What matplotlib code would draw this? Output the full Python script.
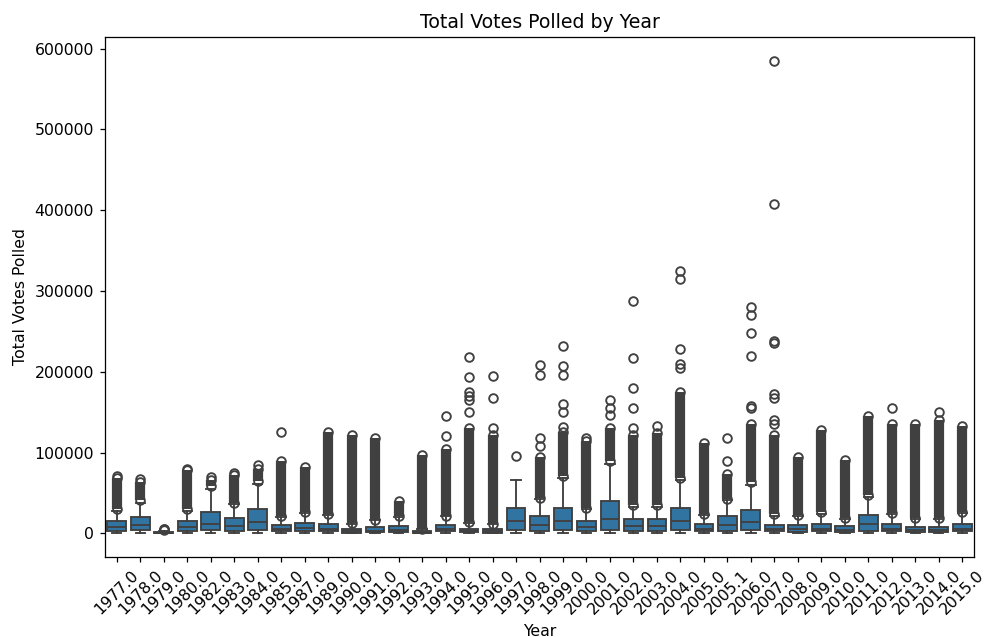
import matplotlib
matplotlib.use('Agg')
import matplotlib.pyplot as plt

years = ['1977.0', '1978.0', '1979.0', '1980.0', '1982.0', '1983.0', '1984.0', '1985.0',
         '1987.0', '1989.0', '1990.0', '1991.0', '1992.0', '1993.0', '1994.0', '1995.0',
         '1996.0', '1997.0', '1998.0', '1999.0', '2000.0', '2001.0', '2002.0', '2003.0',
         '2004.0', '2005.0', '2005.1', '2006.0', '2007.0', '2008.0', '2009.0', '2010.0',
         '2011.0', '2012.0', '2013.0', '2014.0', '2015.0']

# box statistics
q1 = [3500, 4000, 300, 3500, 4000, 3500, 4000, 2500, 3000, 2500, 1000, 1500, 2000, 300,
      2500, 1200, 1000, 4000, 3500, 4000, 3000, 4500, 3000, 3000, 4000, 2500, 3500, 4000,
      2500, 2000, 2500, 2000, 3500, 2500, 1500, 1500, 2500]
medians = [8000, 10000, 800, 7500, 12000, 9000, 14000, 5000, 6500, 5500, 2500, 3500, 4500,
           1000, 5000, 3000, 2500, 15000, 10000, 15000, 8000, 18000, 8500, 8500, 15000, 5500,
           10500, 13500, 5500, 5000, 6000, 4500, 11000, 5500, 4000, 4000, 6000]
q3 = [15500, 20000, 1800, 15000, 27000, 19000, 30000, 10000, 12500, 11000, 5500, 7500, 9500,
      2500, 10000, 6000, 5000, 32000, 21500, 32000, 15500, 40000, 17500, 17500, 32000, 11000,
      21500, 28500, 10500, 10000, 11500, 8500, 23000, 11000, 8000, 8000, 11500]
whisker_low = [200, 300, 0, 200, 300, 200, 300, 100, 100, 100, 0, 100, 100, 0,
               100, 0, 0, 300, 200, 300, 100, 300, 100, 100, 300, 100, 200, 300,
               100, 100, 100, 100, 200, 100, 0, 0, 100]
whisker_high = [28000, 38000, 3500, 28000, 55000, 36000, 61000, 20000, 25000, 23000, 11500,
                16000, 20000, 5500, 21000, 13000, 11000, 66000, 42000, 68000, 30000, 86000,
                33000, 33000, 66000, 23000, 41000, 60000, 22000, 21500, 24500, 18000, 45000,
                23500, 17500, 17500, 25000]

# dense runs of outliers (lowest and highest outlier of each run), None = no run
flier_run_low = [30000, 41000, None, 30000, 59000, 38000, 65000, 21500, 26000, 24000, 12500,
                 17000, 21500, 6000, 22000, 14000, 12000, None, 44000, 71000, 31500, 89000,
                 34500, 34500, 69000, 24500, 43000, 63000, 23500, 23000, 26000, 19500, 47000,
                 25000, 19000, 19000, 26500]
flier_run_high = [68000, 64000, None, 78000, 66000, 72000, 80000, 90000, 82000, 125000, 122000,
                  118000, 40000, 97000, 104000, 130000, 122000, None, 95000, 125000, 114000,
                  130000, 122000, 124000, 175000, 112000, 73000, 135000, 122000, 95000, 128000,
                  91000, 145000, 135000, 135000, 140000, 133000]

# single outliers standing apart
flier_single = [
    [71000], [67000], [4200, 5000, 6000], [80000], [70000], [75000], [84000], [126000],
    [], [], [], [], [], [], [120000, 145000],
    [150000, 165000, 170000, 175000, 193000, 218000], [130000, 167000, 195000], [96000],
    [108000, 118000, 196000, 208000], [132000, 150000, 160000, 196000, 207000, 232000],
    [118000], [146000, 155000, 165000], [130000, 155000, 180000, 217000, 288000], [133000],
    [205000, 210000, 228000, 315000, 325000], [], [90000, 118000],
    [155000, 158000, 220000, 248000, 270000, 280000],
    [135000, 140000, 168000, 172000, 235000, 238000, 408000, 585000],
    [], [], [], [], [155000], [], [150000], [],
]

box_color = '#3274a1'
line_color = '#404040'

stats = []
for i in range(len(years)):
    fl = list(flier_single[i])
    if flier_run_low[i] is not None:
        fl += [flier_run_low[i], flier_run_high[i]]
    stats.append({'label': years[i], 'q1': q1[i], 'med': medians[i], 'q3': q3[i],
                  'whislo': whisker_low[i], 'whishi': whisker_high[i], 'fliers': fl})

fig, ax = plt.subplots(figsize=(988 / 113, 637 / 113), dpi=113)
fig.subplots_adjust(left=105 / 988, right=974 / 988, top=1 - 37 / 637, bottom=1 - 557 / 637)

positions = list(range(len(years)))
ax.bxp(stats, positions=positions, widths=0.8, patch_artist=True,
       boxprops=dict(facecolor=box_color, edgecolor=line_color, linewidth=1.2),
       medianprops=dict(color=line_color, linewidth=1.2),
       whiskerprops=dict(color=line_color, linewidth=1.2),
       capprops=dict(color=line_color, linewidth=1.2),
       flierprops=dict(marker='o', markersize=5.5, markerfacecolor='none',
                       markeredgecolor=line_color, markeredgewidth=1.2))

# the runs are thousands of overlapping circles, drawn as a solid column
for i in positions:
    if flier_run_low[i] is not None:
        ax.vlines(i, flier_run_low[i], flier_run_high[i], color=line_color,
                  linewidth=6.5, capstyle='butt', zorder=2)

ax.set_xlim(-0.5, len(years) - 0.5)
plt.xticks(positions, years, rotation=45)
plt.title('Total Votes Polled by Year')
plt.xlabel('Year')
plt.ylabel('Total Votes Polled')

plt.savefig('out.png')
